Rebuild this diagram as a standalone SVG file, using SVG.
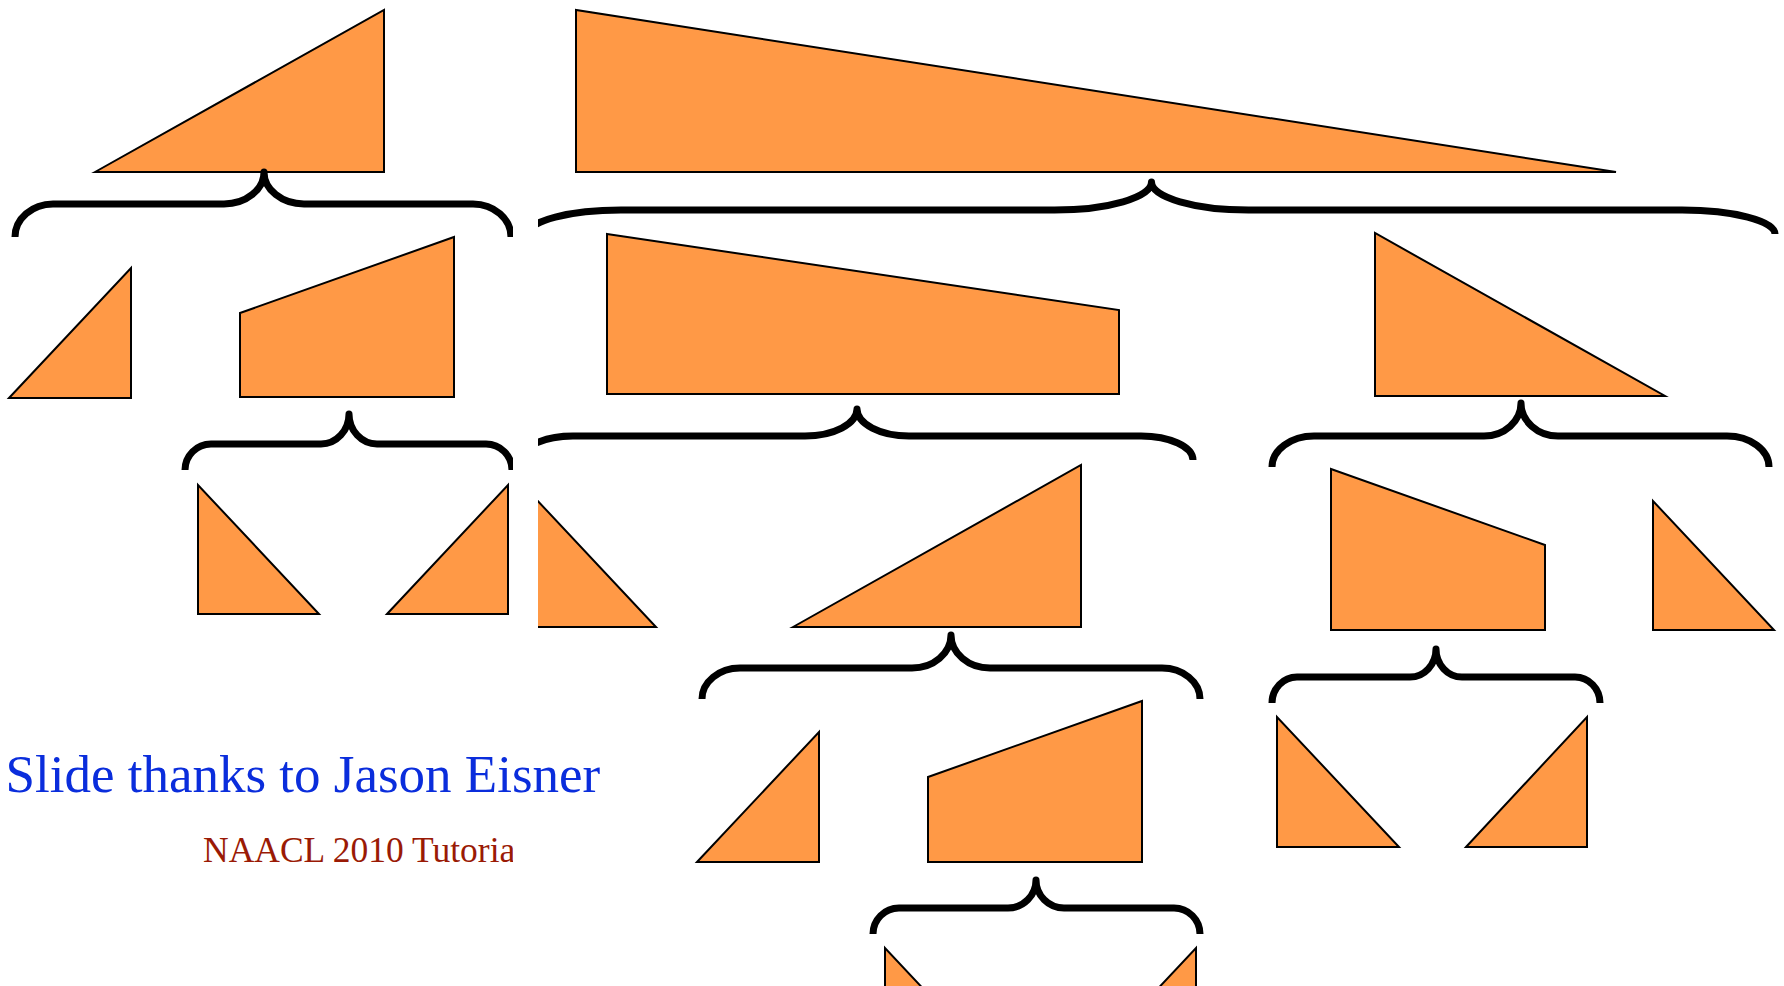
<svg xmlns="http://www.w3.org/2000/svg" width="1784" height="986" viewBox="0 0 1784 986">
<style>
.s{fill:#ff9946;stroke:#000;stroke-width:2;stroke-linejoin:miter}
.b{fill:none;stroke:#000;stroke-width:7;stroke-linecap:butt;stroke-linejoin:round}
.t1{font-family:"Liberation Serif","Times New Roman",serif;font-size:53px;fill:#0a2ddc}
.t2{font-family:"Liberation Serif","Times New Roman",serif;font-size:35.5px;fill:#9a1a05}
</style>
<defs>
<clipPath id="cl"><rect x="0" y="0" width="513" height="986"/></clipPath>
<clipPath id="cr"><rect x="538" y="0" width="1246" height="986"/></clipPath>
</defs>
<rect width="1784" height="986" fill="#fff"/>
<g clip-path="url(#cl)">
<g id="n1"><polygon class="s" points="95,172 384,10 384,172"/></g>
<g id="n2"><polygon class="s" points="9,398 131,268 131,398"/></g>
<g id="n3"><polygon class="s" points="240,313 454,237 454,397 240,397"/></g>
<g id="n4"><polygon class="s" points="198,485 198,614 319,614"/></g>
<g id="n5"><polygon class="s" points="387,614 508,485 508,614"/></g>
<g id="edges-left">
<path class="b" d="M15 237 C15 218.9 32.1 204 53 204 L224 204 C246 204 264 189.6 264 172 C264 189.6 282 204 304 204 L473 204 C493.9 204 511 218.9 511 237"/>
<path class="b" d="M185 470 C185 455.7 196.7 444 211 444 L321 444 C336.4 444 349 430.5 349 414 C349 430.5 361.6 444 377 444 L486 444 C500.3 444 512 455.7 512 470"/>
</g>
<g id="caption2"><text class="t2" x="203" y="862">NAACL 2010 Tutorial</text></g>
</g>
<g id="caption1"><text class="t1" x="5.5" y="792">Slide thanks to Jason Eisner</text></g>
<g clip-path="url(#cr)">
<g id="n6"><polygon class="s" points="576,10 576,172 1616,172"/></g>
<g id="n7"><polygon class="s" points="607,234 1119,310 1119,394 607,394"/></g>
<g id="n8"><polygon class="s" points="1375,233 1375,396 1665,396"/></g>
<g id="n9"><polygon class="s" points="535,498 535,627 656,627"/></g>
<g id="n10"><polygon class="s" points="793,627 1081,465 1081,627"/></g>
<g id="n11"><polygon class="s" points="1331,469 1545,545 1545,630 1331,630"/></g>
<g id="n12"><polygon class="s" points="1653,501 1653,630 1774,630"/></g>
<g id="n13"><polygon class="s" points="697,862 819,732 819,862"/></g>
<g id="n14"><polygon class="s" points="928,777 1142,701 1142,862 928,862"/></g>
<g id="n15"><polygon class="s" points="1277,717 1277,847 1399,847"/></g>
<g id="n16"><polygon class="s" points="1466,847 1587,717 1587,847"/></g>
<g id="n17"><polygon class="s" points="885,948 885,1077 1006,1077"/></g>
<g id="n18"><polygon class="s" points="1196,948 1196,1077 1075,1077"/></g>
<g id="edges-right">
<path class="b" d="M528 234 C528 220.8 569.85 210 621 210 L1054.5 210 C1107.8 210 1151.5 197.4 1151.5 182 C1151.5 197.4 1195.2 210 1248.5 210 L1682 210 C1733.15 210 1775 220.8 1775 234"/>
<path class="b" d="M521 460 C521 446.8 544.4 436 573 436 L805 436 C833.6 436 857 423.85 857 409 C857 423.85 880.4 436 909 436 L1141 436 C1169.6 436 1193 446.8 1193 460"/>
<path class="b" d="M1272 467 C1272 449.95 1290.9 436 1314 436 L1484 436 C1504.35 436 1521 421.15 1521 403 C1521 421.15 1537.65 436 1558 436 L1727 436 C1750.1 436 1769 449.95 1769 467"/>
<path class="b" d="M702 699 C702 681.95 719.1 668 740 668 L912 668 C933.45 668 951 653.15 951 635 C951 653.15 968.55 668 990 668 L1162 668 C1182.9 668 1200 681.95 1200 699"/>
<path class="b" d="M873 934 C873 919.7 884.7 908 899 908 L1008 908 C1023.4 908 1036 895.4 1036 880 C1036 895.4 1048.6 908 1064 908 L1174 908 C1188.3 908 1200 919.7 1200 934"/>
<path class="b" d="M1272 703 C1272 688.7 1283.25 677 1297 677 L1410 677 C1424.3 677 1436 664.4 1436 649 C1436 664.4 1447.7 677 1462 677 L1575 677 C1588.75 677 1600 688.7 1600 703"/>
</g>
</g>
</svg>
